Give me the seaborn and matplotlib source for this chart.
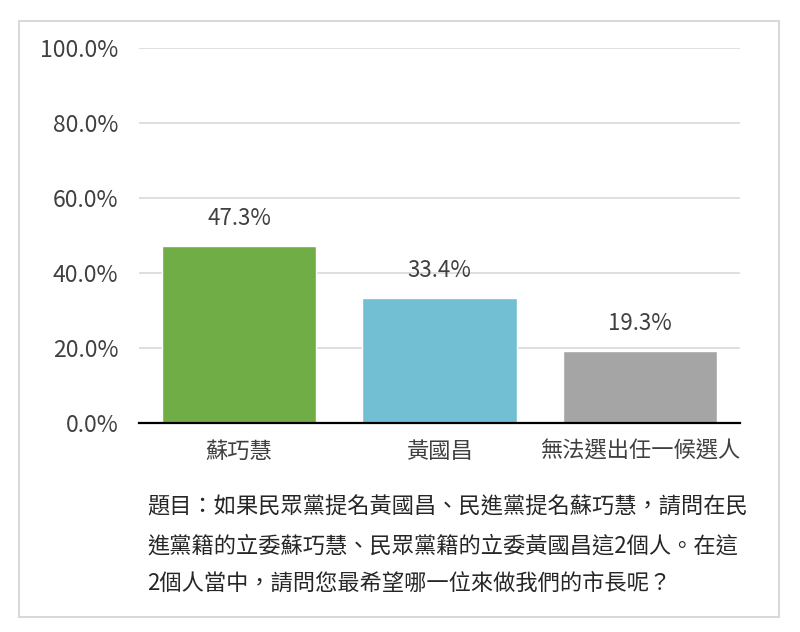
import numpy as np
import pandas as pd
import seaborn as sns
import matplotlib.pyplot as plt
from matplotlib.patches import Rectangle

candidates = ['蘇巧慧', '黃國昌', '無法選出任一候選人']
support = [47.3, 33.4, 19.3]
bar_colors = ['#70AD47', '#72BFD4', '#A5A5A5']
caption_lines = ['題目：如果民眾黨提名黃國昌、民進黨提名蘇巧慧，請問在民',
                 '進黨籍的立委蘇巧慧、民眾黨籍的立委黃國昌這2個人。在這',
                 '2個人當中，請問您最希望哪一位來做我們的市長呢？']

sns.set_style('white')
plt.rcParams['font.family'] = ['Noto Sans CJK TC', 'DejaVu Sans']

df = pd.DataFrame({'cand': candidates, 'pct': support})

fig = plt.figure(figsize=(8, 6.32), dpi=100)
W, H = 800, 632
ax = fig.add_axes([139/W, 1-423/H, 601/W, 375/H])
sns.barplot(data=df, x='cand', y='pct', hue='cand', palette=bar_colors,
            width=0.77, saturation=1, legend=False, ax=ax, zorder=3)

ax.set_ylim(0, 100)
ax.set_xlim(-0.5, 2.5)
ax.set_yticks(np.arange(0, 101, 20))
ax.set_yticklabels(['%.1f%%' % v for v in np.arange(0, 101, 20)])
ax.set_xlabel('')
ax.set_ylabel('')
ax.grid(axis='y', color='#D9D9D9', linewidth=1.2, zorder=0)
ax.grid(axis='x', visible=False)
for s in ['top', 'right', 'left']:
    ax.spines[s].set_visible(False)
ax.spines['bottom'].set_color('black')
ax.spines['bottom'].set_linewidth(1.6)
ax.spines['bottom'].set_zorder(4)
ax.tick_params(axis='y', length=0, pad=15, labelsize=16.5, labelcolor='#404040')
ax.tick_params(axis='x', length=0, pad=12, labelsize=16, labelcolor='#404040')

for i, v in enumerate(support):
    ax.annotate('%.1f%%' % v, (i, v), xytext=(0, 11), textcoords='offset points',
                ha='center', va='bottom', fontsize=16, color='#404040')

for k, line in enumerate(caption_lines):
    fig.text(147/W, 1-[507, 546, 583][k]/H, line, ha='left', va='center',
             fontsize=16, color='#262626')

fig.patches.append(Rectangle((19/W, 1-617/H), 760/W, 596/H, transform=fig.transFigure,
                             fill=False, edgecolor='#D9D9D9', linewidth=1.5))

fig.savefig('out.png', dpi=100)
